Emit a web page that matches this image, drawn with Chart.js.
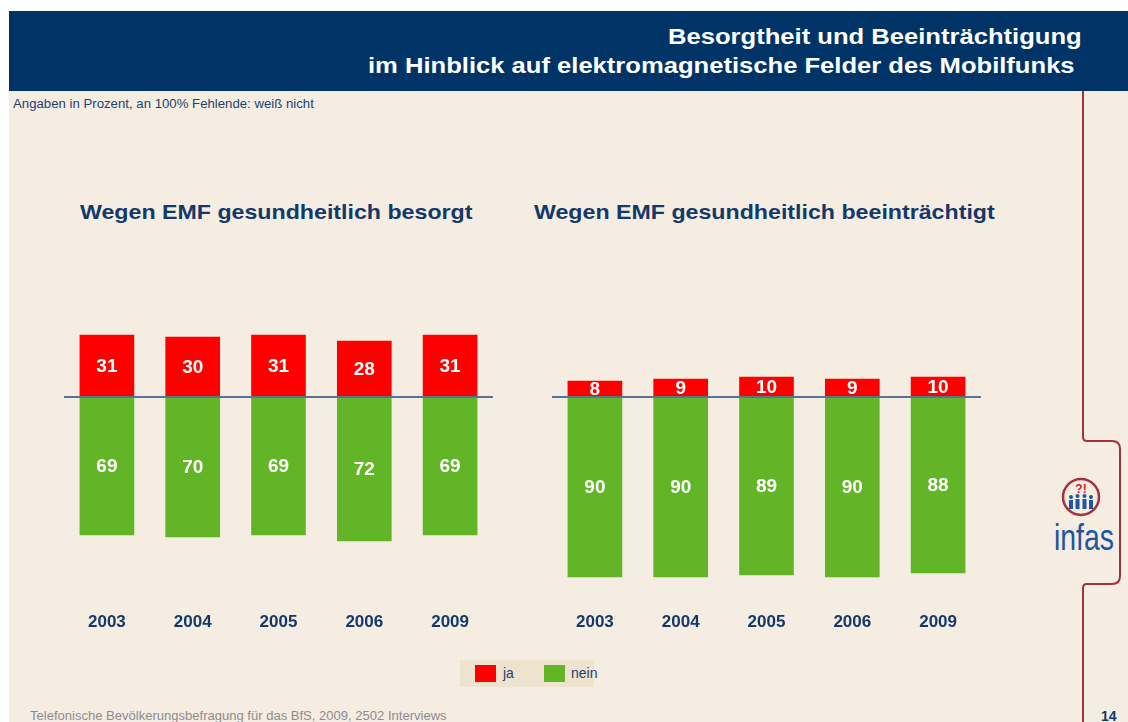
<!DOCTYPE html>
<html>
<head>
<meta charset="utf-8">
<script src="https://cdn.jsdelivr.net/npm/chart.js@4/dist/chart.umd.min.js"></script>
<style>
  html, body { margin:0; padding:0; }
  body { width:1128px; height:722px; position:relative; overflow:hidden; background:#ffffff;
         font-family:"Liberation Sans", Arial, sans-serif; }
  #bg { position:absolute; left:9px; top:91px; width:1119px; height:631px; background:#F5EDE2; }
  #header { position:absolute; left:9px; top:11px; width:1119px; height:80px; background:#003366; }
  .hline { position:absolute; color:#fff; font-weight:bold; font-size:22px; white-space:nowrap; line-height:26px;
           transform:scaleX(1.163); transform-origin:right center; }
  #sub { position:absolute; left:13px; top:97px; font-size:12px; color:#1F3F6F; white-space:nowrap;
         transform:scaleX(1.1); transform-origin:left center; }
  .ctitle { position:absolute; top:200px; font-size:21px; font-weight:bold; color:#13396B; white-space:nowrap;
            transform:scaleX(1.104); transform-origin:left center; }
  canvas { position:absolute; }
  #legend { position:absolute; left:460px; top:660px; width:134px; height:27px; background:#EEE3CF; }
  .lbox { position:absolute; top:5px; width:21px; height:17px; }
  .ltxt { position:absolute; top:5px; font-size:14px; color:#1F3F6F; }
  #foot { position:absolute; left:30px; top:709px; font-size:12px; color:#8C8C8C; white-space:nowrap;
          transform:scaleX(1.086); transform-origin:left center; }
  #page { position:absolute; left:1101px; top:708px; font-size:14px; font-weight:bold; color:#13396B; }
  svg { position:absolute; left:0; top:0; }
</style>
</head>
<body>
<div id="bg"></div>
<div id="header">
  <div class="hline" style="top:13px; right:46px;">Besorgtheit und Beeinträchtigung</div>
  <div class="hline" style="top:42px; right:53px;">im Hinblick auf elektromagnetische Felder des Mobilfunks</div>
</div>
<div id="sub">Angaben in Prozent, an 100% Fehlende: weiß nicht</div>
<div class="ctitle" id="t1" style="left:80px;"></div>
<div class="ctitle" id="t2" style="left:534px;"></div>

<svg width="1128" height="722">
  <path d="M1083 91 V437 Q1083 441 1087 441 H1112 Q1120 441 1120 449 V576 Q1120 584 1112 584 H1087 Q1083 584 1083 588 V722"
        fill="none" stroke="#A3323C" stroke-width="2"/>
  <circle cx="1081" cy="497" r="18" fill="none" stroke="#A3323C" stroke-width="2.5"/>
  <text x="1081" y="493" text-anchor="middle" font-family="Liberation Sans, Arial" font-weight="bold" font-size="12" fill="#D0202A">?!</text>
  <g fill="#2155A0">
    <circle cx="1071" cy="497" r="2"/><rect x="1069" y="500" width="4" height="9"/>
    <circle cx="1077.5" cy="496" r="2"/><rect x="1075.5" y="499" width="4" height="10"/>
    <circle cx="1084.5" cy="496" r="2"/><rect x="1082.5" y="499" width="4" height="10"/>
    <circle cx="1091" cy="497" r="2"/><rect x="1089" y="500" width="4" height="9"/>
  </g>
  <text x="1054" y="550" font-family="Liberation Sans, Arial" font-size="36" fill="#2155A0"
        textLength="60" lengthAdjust="spacingAndGlyphs">infas</text>
</svg>

<canvas id="c1" width="429" height="340" style="left:64px; top:317px;"></canvas>
<canvas id="c2" width="429" height="340" style="left:552px; top:317px;"></canvas>

<div id="legend"></div>
<div id="foot">Telefonische Bevölkerungsbefragung für das BfS, 2009, 2502 Interviews</div>
<div id="page">14</div>

<script>
// ---- data ----
const years = ['2003', '2004', '2005', '2006', '2009'];
const seriesNames = ['ja', 'nein'];
const seriesColors = ['#FF0000', '#62B526'];
const titles = ['Wegen EMF gesundheitlich besorgt', 'Wegen EMF gesundheitlich beeinträchtigt'];
const besorgtJa = [31, 30, 31, 28, 31];
const besorgtNein = [69, 70, 69, 72, 69];
const beeintrJa = [8, 9, 10, 9, 10];
const beeintrNein = [90, 90, 89, 90, 88];

document.getElementById('t1').textContent = titles[0];
document.getElementById('t2').textContent = titles[1];

// legend
const lg = document.getElementById('legend');
const lpos = [[15, 43], [84, 111]];
seriesNames.forEach((n, i) => {
  const b = document.createElement('div');
  b.className = 'lbox'; b.style.left = lpos[i][0] + 'px'; b.style.background = seriesColors[i];
  lg.appendChild(b);
  const t = document.createElement('div');
  t.className = 'ltxt'; t.style.left = lpos[i][1] + 'px'; t.textContent = n;
  lg.appendChild(t);
});

const labelPlugin = {
  id: 'barLabels',
  afterDatasetsDraw(chart) {
    const ctx = chart.ctx;
    // zero line
    const y0 = chart.scales.y.getPixelForValue(0);
    ctx.save();
    ctx.strokeStyle = '#5B7393';
    ctx.lineWidth = 2;
    ctx.beginPath();
    ctx.moveTo(chart.chartArea.left, y0);
    ctx.lineTo(chart.chartArea.right, y0);
    ctx.stroke();
    // labels
    ctx.fillStyle = '#ffffff';
    ctx.font = 'bold 19px "Liberation Sans", Arial, sans-serif';
    ctx.textAlign = 'center';
    ctx.textBaseline = 'middle';
    chart.data.datasets.forEach((ds, di) => {
      const meta = chart.getDatasetMeta(di);
      meta.data.forEach((el, i) => {
        const v = Math.abs(ds.data[i]);
        const cy = (el.y + el.base) / 2;
        ctx.fillText(String(v), el.x, cy + 1);
      });
    });
    ctx.restore();
  }
};

function makeChart(id, ja, nein) {
  return new Chart(document.getElementById(id), {
    type: 'bar',
    data: {
      labels: years,
      datasets: [
        { label: seriesNames[0], data: ja, backgroundColor: seriesColors[0], borderWidth: 0 },
        { label: seriesNames[1], data: nein.map(v => -v), backgroundColor: seriesColors[1], borderWidth: 0 }
      ]
    },
    options: {
      responsive: false,
      animation: false,
      layout: { padding: 0 },
      plugins: { legend: { display: false }, tooltip: { enabled: false }, title: { display: false } },
      datasets: { bar: { barThickness: 54 } },
      scales: {
        x: {
          stacked: true,
          grid: { display: false, drawTicks: false },
          border: { display: false },
          ticks: { color: '#13396B', font: { family: '"Liberation Sans", Arial, sans-serif', size: 17, weight: 'bold' }, padding: 15 },
          afterFit(scale) { scale.height = 60; }
        },
        y: {
          stacked: true,
          display: false,
          min: -100,
          max: 40
        }
      }
    },
    plugins: [labelPlugin]
  });
}

makeChart('c1', besorgtJa, besorgtNein);
makeChart('c2', beeintrJa, beeintrNein);
</script>
</body>
</html>
